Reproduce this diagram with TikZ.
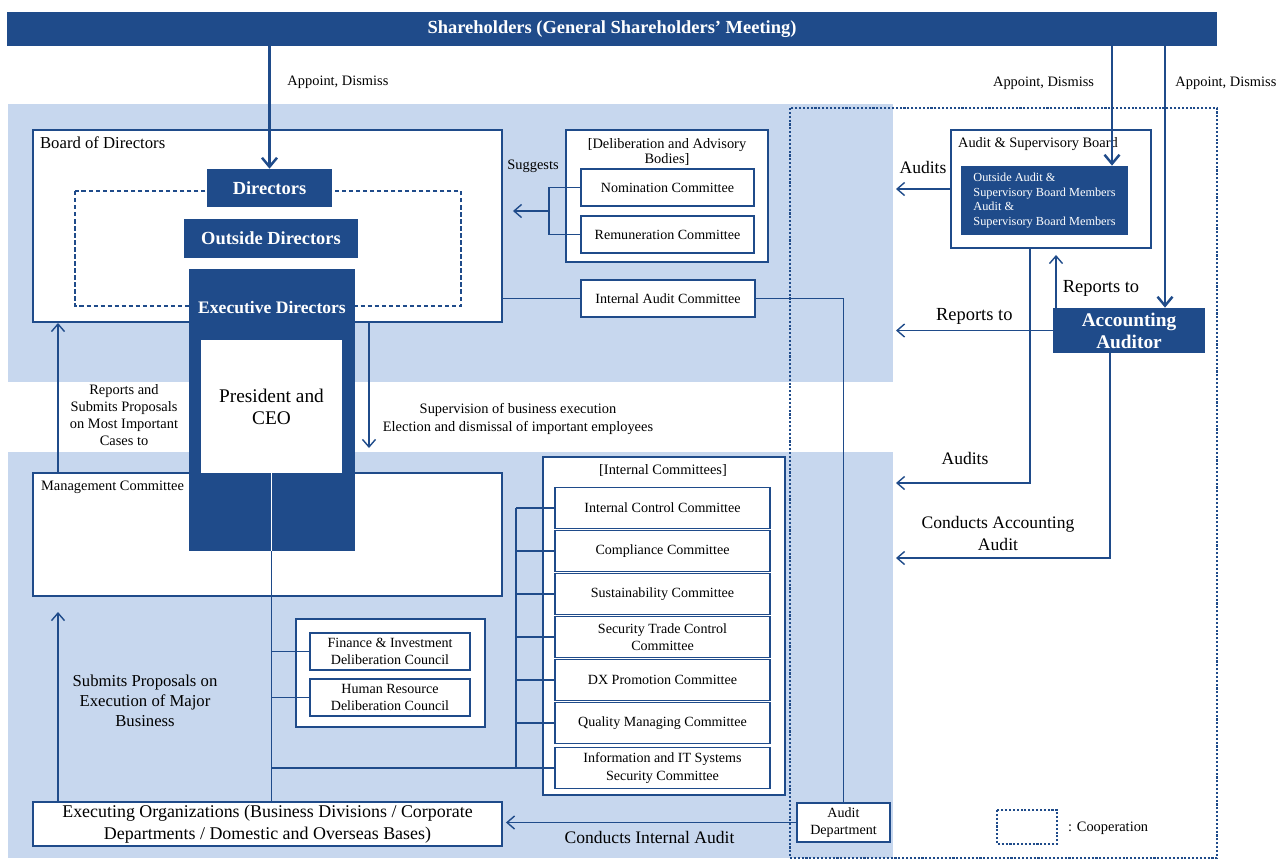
\documentclass[tikz,border=0pt]{standalone}
\usepackage{fontspec}
\setmainfont{Liberation Serif}
\usetikzlibrary{arrows.meta}

\definecolor{navy}{HTML}{1F4B8A}
\definecolor{paleblue}{HTML}{C7D7EE}

\begin{document}
\begin{tikzpicture}[x=0.2mm, y=-0.2mm,
  box/.style={draw=navy, line width=1.1pt, fill=white, inner sep=0pt, font=\fontsize{8}{9.8}\selectfont},
  darkbox/.style={fill=navy, text=white, inner sep=0pt, font=\fontsize{10.5}{12.5}\selectfont\bfseries},
  conn/.style={draw=navy, line width=0.8pt},
  arr/.style={conn, -{Straight Barb[length=1.5mm, width=2.6mm]}},
  bigarr/.style={draw=navy, line width=1.4pt, -{Straight Barb[length=1.8mm, width=3mm]}},
  lbl/.style={font=\fontsize{8.2}{10}\selectfont, align=center, inner sep=1pt},
  biglbl/.style={font=\fontsize{10}{12.5}\selectfont, align=center, inner sep=1pt},
  coop/.style={draw=navy, line width=1.2pt, dash pattern=on 1.2pt off 1pt}]
  \useasboundingbox (0,0) rectangle (1280,862);
  \fill[paleblue] (8,104) rectangle (893,382);
  \fill[paleblue] (8,452) rectangle (893,858);
  \draw[coop] (790,108) rectangle (1217,858);

  \node[darkbox, minimum width=242mm, minimum height=6.8mm] (share) at (612,29) {Shareholders (General Shareholders' Meeting)};

  \node[box, minimum width=93.8mm, minimum height=38.4mm] (board) at (267.5,226) {};
  \node[lbl, anchor=north west, font=\fontsize{9.5}{11}\selectfont] (boardlbl) at (38,135) {Board of Directors};
  \draw[navy, line width=0.8pt, dash pattern=on 2.5pt off 1.5pt] (75,191) rectangle (461,306);
  \node[darkbox, minimum width=25mm, minimum height=7.6mm] (dir) at (269.5,188) {Directors};
  \node[darkbox, minimum width=34.8mm, minimum height=7.8mm] (outdir) at (271,238.5) {Outside Directors};

  \node[box, minimum width=93.8mm, minimum height=24.6mm] (mgmt) at (267.5,534.5) {};
  \node[lbl, anchor=north west] (mgmtlbl) at (39,479) {Management Committee};

  \node[darkbox, minimum width=33.2mm, minimum height=56.4mm] (exec) at (272,410) {};
  \node[lbl, text=white, font=\fontsize{10}{12}\selectfont\bfseries] (execlbl) at (272,307) {Executive Directors};
  \node[fill=white, inner sep=0pt, minimum width=28.2mm, minimum height=26.6mm, align=center, font=\fontsize{11}{12.5}\selectfont] (pres) at (271.5,406.5) {President and\\CEO};

  \node[box, minimum width=93.8mm, minimum height=8.8mm, align=center, font=\fontsize{10.2}{12.5}\selectfont] (execorg) at (267.5,824) {Executing Organizations (Business Divisions / Corporate\\Departments / Domestic and Overseas Bases)};

  \node[box, minimum width=37.8mm, minimum height=21.6mm] (council) at (390.5,673) {};
  \node[box, minimum width=32mm, minimum height=7.4mm, align=center] (fin) at (390,651.5) {Finance \& Investment\\Deliberation Council};
  \node[box, minimum width=32mm, minimum height=7.4mm, align=center] (hr) at (390,697.5) {Human Resource\\Deliberation Council};

  \node[box, minimum width=40.4mm, minimum height=26.4mm] (advisory) at (667,196) {};
  \node[lbl, font=\fontsize{8.2}{9}\selectfont] (advlbl) at (667,152) {[Deliberation and Advisory\\Bodies]};
  \node[box, minimum width=34.6mm, minimum height=7.4mm] (nom) at (667.5,187.5) {Nomination Committee};
  \node[box, minimum width=34.6mm, minimum height=7.4mm] (rem) at (667.5,234.5) {Remuneration Committee};
  \node[box, minimum width=34.8mm, minimum height=7.4mm] (iac) at (668,298.5) {Internal Audit Committee};

  \node[box, minimum width=48.4mm, minimum height=67.6mm] (internal) at (664,626) {};
  \node[lbl] (intlbl) at (663,470) {[Internal Committees]};
  \foreach \y/\txt [count=\i] in {508/Internal Control Committee, 551/Compliance Committee, 594/Sustainability Committee, 637/{Security Trade Control\\Committee}, 680/DX Promotion Committee, 723/Quality Managing Committee, 768/{Information and IT Systems\\Security Committee}}
    \node[box, minimum width=43mm, minimum height=8.2mm, align=center] (ic\i) at (662.5,\y) {\txt};

  \node[box, minimum width=18.6mm, minimum height=7.8mm, align=center] (adept) at (843.5,822.5) {Audit\\Department};

  \node[box, minimum width=40mm, minimum height=23.6mm] (aboard) at (1051,189) {};
  \node[lbl, anchor=north west] (aboardlbl) at (956,135) {Audit \& Supervisory Board};
  \node[darkbox, minimum width=33.4mm, minimum height=13.8mm, align=left, font=\fontsize{7}{8.2}\selectfont] (asbm) at (1044.5,200.5) {Outside Audit \&\\Supervisory Board Members\\Audit \&\\Supervisory Board Members};
  \node[darkbox, minimum width=30.4mm, minimum height=9mm, align=center, font=\fontsize{11}{12.5}\selectfont\bfseries] (acct) at (1129,330.5) {Accounting\\Auditor};

  \draw[coop] (997,810) rectangle (1057,844);
  \node[lbl, anchor=west] (cooplbl) at (1066,828) {: Cooperation};

  \coordinate (apA) at (1112,0);
  \coordinate (apB) at (1165,0);
  \draw[bigarr] (dir.north |- share.south) -- (dir.north) node[pos=0.29, right=3mm, lbl] {Appoint, Dismiss};
  \draw[bigarr] (share.south -| apA) -- (asbm.north -| apA) node[pos=0.31, left=3mm, lbl] {Appoint, Dismiss};
  \draw[bigarr] (share.south -| apB) -- (acct.north -| apB) node[pos=0.14, right=1.5mm, lbl] {Appoint, Dismiss};

  \draw[conn] (nom.west) -- ++(-31,0) |- (rem.west);
  \coordinate (sg) at (550,211);
  \draw[arr, shorten >=2mm] (sg) -- (board.east |- sg);
  \node[lbl] (sglbl) at (533,166) {Suggests};
  \draw[conn] (board.east |- iac.west) -- (iac.west);
  \draw[conn] (iac.east) -| (adept.north);

  \coordinate (sv) at (369,448);
  \draw[arr] (board.south -| sv) -- (sv);
  \node[lbl] (svlbl) at (518,419) {Supervision of business execution\\Election and dismissal of important employees};

  \coordinate (rp) at (58,612);
  \draw[arr] (mgmt.north -| rp) -- (board.south -| rp);
  \node[lbl, font=\fontsize{8.2}{9.8}\selectfont] (rplbl) at (124,415) {Reports and\\Submits Proposals\\on Most Important\\Cases to};
  \draw[arr] (execorg.north -| rp) -- (rp);
  \node[lbl, font=\fontsize{9.5}{11.3}\selectfont] (sblbl) at (145,701) {Submits Proposals on\\Execution of Major\\Business};

  \draw[conn] (exec.south -| pres.south) -- (execorg.north -| pres.south);
  \draw[white, line width=0.8pt] (pres.south) -- (exec.south -| pres.south);
  \draw[conn] (fin.west) -- (fin.west -| pres.south);
  \draw[conn] (hr.west) -- (hr.west -| pres.south);
  \foreach \i in {1,...,7}
    \draw[conn] (ic\i.west) -- ++(-38,0);
  \draw[conn] ([xshift=-7.6mm]ic1.west) -- ([xshift=-7.6mm]ic7.west);
  \draw[conn] (ic7.west -| pres.south) -- ([xshift=-7.6mm]ic7.west);

  \coordinate (rx) at (896,0);
  \draw[arr] (aboard.west) -- (aboard.west -| rx) node[midway, above=2.5mm, biglbl] {Audits};
  \coordinate (au) at (1030,483);
  \draw[arr] (aboard.south -| au) |- (au -| rx);
  \node[biglbl] (aulbl) at (965,458) {Audits};
  \coordinate (ru) at (1056,0);
  \draw[arr, shorten >=1.2mm] (acct.north -| ru) -- (aboard.south -| ru);
  \node[biglbl, font=\fontsize{10.5}{12.5}\selectfont] (rulbl) at (1101,288) {Reports to};
  \draw[arr] (acct.west) -- (acct.west -| rx) node[midway, above=0.8mm, biglbl, font=\fontsize{10.5}{12.5}\selectfont] {Reports to};
  \coordinate (ca) at (1110,558);
  \draw[arr] (acct.south -| ca) |- (ca -| rx);
  \node[biglbl] (calbl) at (998,533) {Conducts Accounting\\Audit};

  \draw[arr, shorten >=0.6mm] (adept.west) -- (adept.west -| execorg.east) node[midway, below=1.2mm, biglbl] {Conducts Internal Audit};
\end{tikzpicture}
\end{document}
